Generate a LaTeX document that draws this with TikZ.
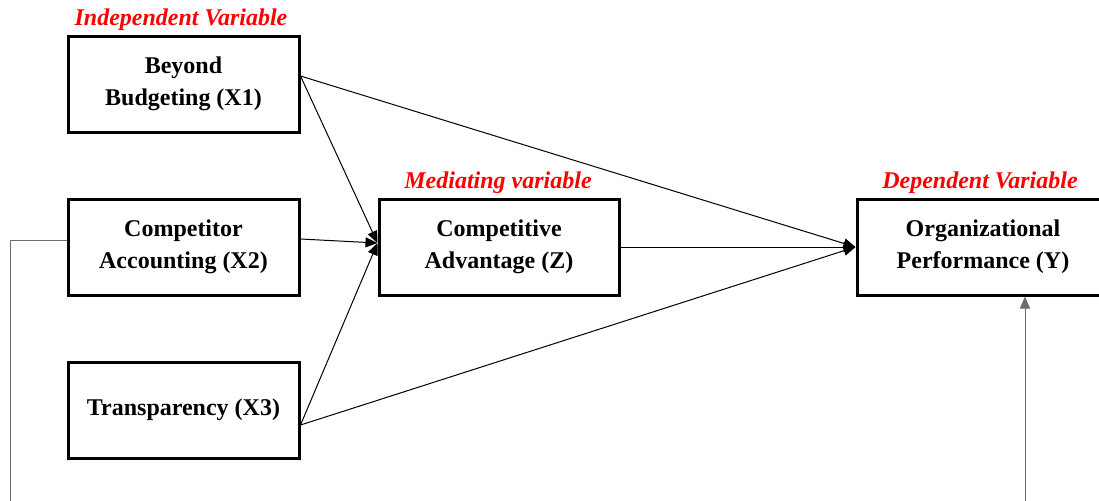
\documentclass[tikz,border=0pt]{standalone}
\usepackage{fontspec}
\setmainfont{Liberation Serif}
\usetikzlibrary{arrows.meta}
\definecolor{tagred}{RGB}{255,0,0}
\definecolor{loopgray}{RGB}{110,110,110}
\tikzset{
  var/.style={rectangle, draw, line width=1.5pt, minimum width=115.5pt, minimum height=48pt, inner sep=2pt, font=\bfseries\fontsize{12}{16}\selectfont, align=center},
  vartag/.style={font=\bfseries\itshape\fontsize{12}{14}\selectfont, text=tagred, inner sep=1pt},
  link/.style={line width=0.5pt, -{Triangle[length=6pt, width=5pt]}},
}

\begin{document}
\begin{tikzpicture}[x=0.5pt, y=-0.5pt]
\useasboundingbox (0,0) rectangle (1099,500);
% variables
\node[var] (x1) at (183.5,84)  {Beyond\\ Budgeting (X1)};
\node[var] (x2) at (183.5,247) {Competitor\\ Accounting (X2)};
\node[var] (x3) at (183.5,410) {Transparency (X3)};
\node[var, minimum width=120pt] (z) at (499,247) {Competitive\\ Advantage (Z)};
\node[var, minimum width=126pt] (y) at (983,247) {Organizational\\ Performance (Y)};
% tags
\node[vartag] (ivtag) at (181,20)  {Independent Variable};
\node[vartag] (mvtag) at (498,183) {Mediating variable};
\node[vartag] (dvtag) at (980,183) {Dependent Variable};
% paths
\draw[link] ([yshift=4pt]x1.east) -- ([yshift=2pt]z.west);
\draw[link] ([yshift=4pt]x2.east) -- ([yshift=2pt]z.west);
\draw[link] ([yshift=-7.5pt]x3.east) -- ([yshift=2pt]z.west);
\draw[link] ([yshift=4pt]x1.east) -- (y.west);
\draw[link] (z.east) -- (y.west);
\draw[link] ([yshift=-7.5pt]x3.east) -- (y.west);
% loop below the picture
\coordinate (loopl) at (10,520);
\draw[link, draw=loopgray] ([yshift=3.5pt]x2.west) -| (loopl) -| ([xshift=21pt]y.south);
\end{tikzpicture}
\end{document}
